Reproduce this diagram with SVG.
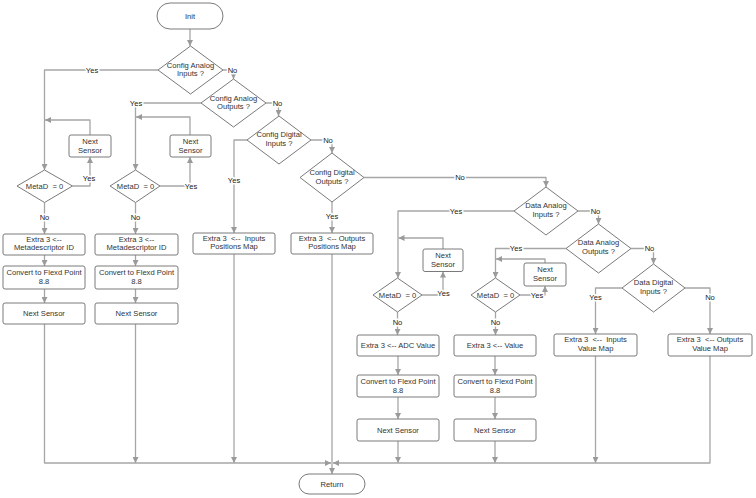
<svg xmlns="http://www.w3.org/2000/svg" width="756" height="498" viewBox="0 0 756 498">
<style>
.n{fill:#fff;stroke:#7a7a7a;stroke-width:1}
.t{font-family:"Liberation Sans",Arial,sans-serif;font-size:7.6px;fill:#333;text-anchor:middle;white-space:pre}
.c{fill:none;stroke:#a6a6a6;stroke-width:1.3;stroke-linejoin:round}
.a{marker-end:url(#ah)}
.l{font-family:"Liberation Sans",Arial,sans-serif;font-size:7.6px;fill:#222;text-anchor:middle;stroke:#fff;stroke-width:3;paint-order:stroke;stroke-linejoin:round}
</style>
<defs>
<marker id="ah" markerUnits="userSpaceOnUse" markerWidth="7" markerHeight="6" refX="6" refY="3" orient="auto">
<path d="M0,0 L6,3 L0,6 z" fill="#9a9a9a"/>
</marker>
</defs>
<rect width="756" height="498" fill="#fff"/>
<g id="connectors">
<path class="c a" d="M190,29 V46"/>
<path class="c a" d="M158,70 H44.5 V170"/>
<path class="c a" d="M223,70 H233.5 V79"/>
<path class="c a" d="M72.5,186 H90 V157"/>
<path class="c a" d="M90,135 V120 H45"/>
<path class="c a" d="M44.5,202.5 V234"/>
<path class="c a" d="M44.5,255 V266"/>
<path class="c a" d="M44.5,289 V303"/>
<path class="c a" d="M44.5,324 V463 H331"/>
<path class="c a" d="M201,103 H135.5 V170"/>
<path class="c a" d="M160,186 H190 V157"/>
<path class="c a" d="M190,135 V117 H136"/>
<path class="c a" d="M135.5,202.5 V234"/>
<path class="c a" d="M135.5,255 V266"/>
<path class="c a" d="M135.5,289 V303"/>
<path class="c a" d="M135.5,324 V463"/>
<path class="c a" d="M266,103 H278.5 V116"/>
<path class="c a" d="M247,140 H234 V233"/>
<path class="c a" d="M234,254 V463"/>
<path class="c a" d="M311,140 H332 V153"/>
<path class="c a" d="M332,202 V233"/>
<path class="c a" d="M332,254 V474"/>
<path class="c a" d="M364,177.5 H546 V187"/>
<path class="c a" d="M514,211 H398 V278"/>
<path class="c a" d="M422,295 H443 V271.5"/>
<path class="c a" d="M443,249 V238 H398.5"/>
<path class="c a" d="M397.5,312 V335"/>
<path class="c a" d="M398,356 V375"/>
<path class="c a" d="M398,397 V419"/>
<path class="c a" d="M398,441 V463"/>
<path class="c a" d="M578,211 H598.5 V224"/>
<path class="c a" d="M566,248.5 H495.5 V278"/>
<path class="c a" d="M520,295 H545 V286"/>
<path class="c a" d="M545,263 V259 H496"/>
<path class="c a" d="M495.5,312 V335"/>
<path class="c a" d="M495,356 V375"/>
<path class="c a" d="M495,397 V419"/>
<path class="c a" d="M495,441 V463"/>
<path class="c a" d="M631,248.5 H653.5 V264"/>
<path class="c a" d="M622,288 H595.5 V334"/>
<path class="c a" d="M685,288 H710 V334"/>
<path class="c a" d="M595.5,356 V463"/>
<path class="c a" d="M710,356 V463 H333"/>
<text class="l" x="92" y="72.7">Yes</text>
<text class="l" x="232.5" y="72.7">No</text>
<text class="l" x="89" y="181">Yes</text>
<text class="l" x="44.5" y="219.7">No</text>
<text class="l" x="136" y="105.7">Yes</text>
<text class="l" x="191" y="188.7">Yes</text>
<text class="l" x="135.5" y="219.7">No</text>
<text class="l" x="277.5" y="105.7">No</text>
<text class="l" x="234" y="182.7">Yes</text>
<text class="l" x="328" y="142.7">No</text>
<text class="l" x="332" y="218.7">Yes</text>
<text class="l" x="460" y="180.2">No</text>
<text class="l" x="456" y="213.7">Yes</text>
<text class="l" x="443.5" y="296">Yes</text>
<text class="l" x="397.5" y="324.7">No</text>
<text class="l" x="595.5" y="213.7">No</text>
<text class="l" x="516" y="250.7">Yes</text>
<text class="l" x="537" y="297.7">Yes</text>
<text class="l" x="495.5" y="324.7">No</text>
<text class="l" x="649.5" y="250.7">No</text>
<text class="l" x="595.5" y="299.7">Yes</text>
<text class="l" x="710" y="299.7">No</text>
</g>
<g id="init"><rect class="n" x="157" y="3" width="66" height="26" rx="13"/><text class="t" x="190" y="18.7">Init</text></g>
<g id="d1"><polygon class="n" points="190.5,46 223,70 190.5,94 158,70"/><text class="t" x="190.5" y="67.7">Config Analog</text><text class="t" x="190.5" y="76.3">Inputs ?</text></g>
<g id="d2"><polygon class="n" points="233.5,79 266,103 233.5,127 201,103"/><text class="t" x="233.5" y="100.5">Config Analog</text><text class="t" x="233.5" y="109.3">Outputs ?</text></g>
<g id="d3"><polygon class="n" points="279,116 311,140 279,164 247,140"/><text class="t" x="279" y="137">Config Digital</text><text class="t" x="279" y="146">Inputs ?</text></g>
<g id="d4"><polygon class="n" points="332,153 364,177.5 332,202 300,177.5"/><text class="t" x="332" y="175">Config Digital</text><text class="t" x="332" y="183.7">Outputs ?</text></g>
<g id="d5"><polygon class="n" points="546,187 578,211 546,235 514,211"/><text class="t" x="546" y="208.4">Data Analog</text><text class="t" x="546" y="217">Inputs ?</text></g>
<g id="d6"><polygon class="n" points="598.5,224 631,248.5 598.5,273 566,248.5"/><text class="t" x="598.5" y="245.4">Data Analog</text><text class="t" x="598.5" y="254.4">Outputs ?</text></g>
<g id="d7"><polygon class="n" points="653.5,264 685,288 653.5,312 622,288"/><text class="t" x="653.5" y="285.4">Data Digital</text><text class="t" x="653.5" y="294.4">Inputs ?</text></g>
<g id="m1"><polygon class="n" points="44.5,170 72.5,186 44.5,202.5 17,186"/><text class="t" x="44.5" y="188.7">MetaD  = 0</text></g>
<g id="m2"><polygon class="n" points="135.5,170 160,186 135.5,202.5 110,186"/><text class="t" x="135.5" y="188.7">MetaD  = 0</text></g>
<g id="m3"><polygon class="n" points="397.5,278 422,295 397.5,312 373,295"/><text class="t" x="397.5" y="297.7">MetaD  = 0</text></g>
<g id="m4"><polygon class="n" points="495.5,278 520,295 495.5,312 471,295"/><text class="t" x="495.5" y="297.7">MetaD  = 0</text></g>
<g id="ns1"><rect class="n" x="69" y="135" width="42" height="22" rx="2"/><text class="t" x="90" y="144">Next</text><text class="t" x="90" y="153">Sensor</text></g>
<g id="ns2"><rect class="n" x="170" y="135" width="41" height="22" rx="2"/><text class="t" x="190.5" y="144">Next</text><text class="t" x="190.5" y="153">Sensor</text></g>
<g id="ns3"><rect class="n" x="423" y="249" width="40" height="22.5" rx="2"/><text class="t" x="443" y="258">Next</text><text class="t" x="443" y="267">Sensor</text></g>
<g id="ns4"><rect class="n" x="524" y="263" width="42" height="23" rx="2"/><text class="t" x="545" y="272">Next</text><text class="t" x="545" y="281">Sensor</text></g>
<g id="e1"><rect class="n" x="3" y="234" width="82" height="21" rx="2"/><text class="t" x="44" y="241.7">Extra 3 &lt;--</text><text class="t" x="44" y="250.4">Metadescriptor ID</text></g>
<g id="cv1"><rect class="n" x="3" y="266" width="82" height="23" rx="2"/><text class="t" x="44" y="275">Convert to Flexd Point</text><text class="t" x="44" y="284">8.8</text></g>
<g id="nx1"><rect class="n" x="3" y="303" width="82" height="21" rx="2"/><text class="t" x="44" y="316.2">Next Sensor</text></g>
<g id="e2"><rect class="n" x="95" y="234" width="83" height="21" rx="2"/><text class="t" x="136.5" y="241.7">Extra 3 &lt;--</text><text class="t" x="136.5" y="250.4">Metadescriptor ID</text></g>
<g id="cv2"><rect class="n" x="95" y="266" width="83" height="23" rx="2"/><text class="t" x="136.5" y="275">Convert to Flexd Point</text><text class="t" x="136.5" y="284">8.8</text></g>
<g id="nx2"><rect class="n" x="95" y="303" width="83" height="21" rx="2"/><text class="t" x="136.5" y="316.2">Next Sensor</text></g>
<g id="ipm"><rect class="n" x="193" y="233" width="82" height="21" rx="2"/><text class="t" x="234" y="240.7">Extra 3  &lt;--  Inputs</text><text class="t" x="234" y="249.4">Positions Map</text></g>
<g id="opm"><rect class="n" x="291" y="233" width="82" height="21" rx="2"/><text class="t" x="332" y="240.7">Extra 3  &lt;-- Outputs</text><text class="t" x="332" y="249.4">Positions Map</text></g>
<g id="adc"><rect class="n" x="357" y="335" width="82" height="21" rx="2"/><text class="t" x="398" y="348.2">Extra 3 &lt;-- ADC Value</text></g>
<g id="cv3"><rect class="n" x="357" y="375" width="82" height="22" rx="2"/><text class="t" x="398" y="383.5">Convert to Flexd Point</text><text class="t" x="398" y="392.5">8.8</text></g>
<g id="nx3"><rect class="n" x="357" y="419" width="82" height="22" rx="2"/><text class="t" x="398" y="432.7">Next Sensor</text></g>
<g id="val"><rect class="n" x="454" y="335" width="82" height="21" rx="2"/><text class="t" x="495" y="348.2">Extra 3 &lt;-- Value</text></g>
<g id="cv4"><rect class="n" x="454" y="375" width="82" height="22" rx="2"/><text class="t" x="495" y="383.5">Convert to Flexd Point</text><text class="t" x="495" y="392.5">8.8</text></g>
<g id="nx4"><rect class="n" x="454" y="419" width="82" height="22" rx="2"/><text class="t" x="495" y="432.7">Next Sensor</text></g>
<g id="ivm"><rect class="n" x="554" y="334" width="83" height="22" rx="2"/><text class="t" x="595.5" y="342.2">Extra 3  &lt;--  Inputs</text><text class="t" x="595.5" y="351">Value Map</text></g>
<g id="ovm"><rect class="n" x="668" y="334" width="84" height="22" rx="2"/><text class="t" x="710" y="342.2">Extra 3  &lt;-- Outputs</text><text class="t" x="710" y="351">Value Map</text></g>
<g id="ret"><rect class="n" x="299" y="474" width="66" height="20" rx="10"/><text class="t" x="332" y="486.7">Return</text></g>
</svg>
